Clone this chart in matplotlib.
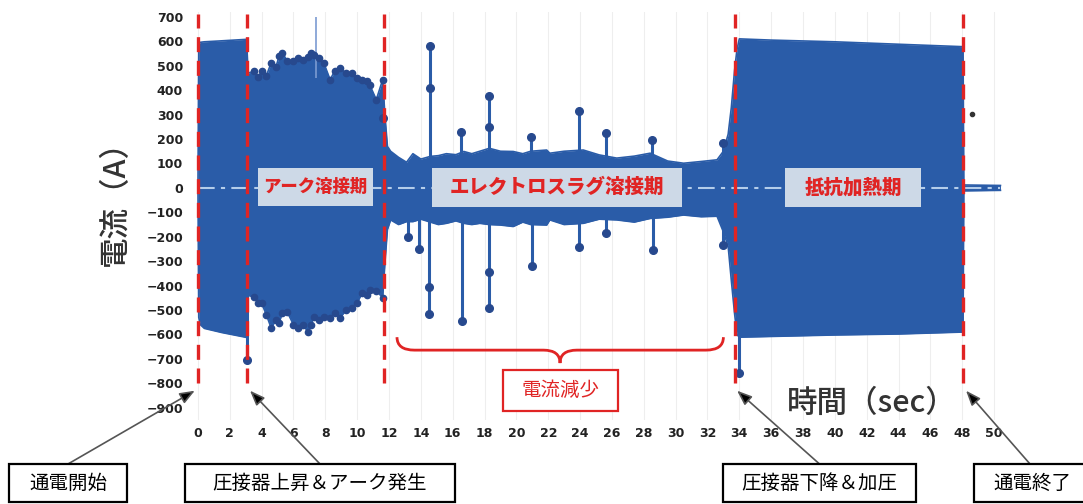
import numpy as np
import matplotlib
matplotlib.use('Agg')
import matplotlib.pyplot as plt
from matplotlib.patches import Rectangle, PathPatch
from matplotlib.path import Path

plt.rcParams['font.family'] = ['Noto Sans CJK JP', 'DejaVu Sans']

# current envelope (A) over time (sec)
t_env = [0.0, 0.05, 0.15, 0.4, 1.5, 3.05,
         3.15, 3.5, 3.8, 4.0, 4.3, 4.6, 4.9, 5.1, 5.3, 5.6, 6.0, 6.3, 6.6, 6.9, 7.1,
         7.3, 7.6, 7.9, 8.3, 8.6, 8.9, 9.3, 9.7, 10.0, 10.3, 10.6, 10.8, 11.2, 11.6,
         11.75, 11.9, 12.1,
         12.6, 13.1, 13.5, 14.0, 14.6, 15.1, 15.6, 16.2, 16.7, 17.2, 17.7, 18.3, 19.0,
         19.8, 20.4, 20.9, 21.9, 22.1, 23.0, 24.2, 25.2, 26.3, 27.4, 28.4, 29.5,
         30.5, 31.6, 32.6, 33.0, 33.3, 33.5, 33.7, 33.85,
         34.0, 36.0, 40.0, 44.0, 48.05,
         48.1, 50.4]
upper = [0, 590, 596, 598, 602, 608,
         470, 477, 455, 477, 460, 512, 495, 540, 553, 520, 518, 530, 525, 535, 553,
         545, 530, 512, 443, 480, 492, 470, 471, 450, 440, 436, 420, 361, 443,
         290, 170, 150,
         125, 105, 140, 118, 129, 132, 140, 136, 149, 140, 150, 162, 150,
         149, 140, 150, 155, 142, 150, 155, 135, 122, 130, 142, 110,
         101, 108, 115, 150, 220, 330, 480, 565,
         610, 605, 598, 588, 578,
         12, 10]
lower = [0, -530, -560, -575, -592, -612,
         -440, -446, -470, -472, -520, -574, -540, -553, -510, -507, -560, -574, -560, -589, -560,
         -527, -540, -530, -534, -510, -534, -500, -493, -470, -432, -440, -418, -420, -450,
         -300, -170, -131,
         -150, -138, -138, -128, -140, -150, -145, -135, -145, -150, -145, -150, -152,
         -158, -140, -150, -152, -131, -150, -145, -128, -131, -140, -125, -120,
         -111, -118, -116, -180, -240, -380, -513, -600,
         -611, -608, -602, -598, -590,
         -12, -10]

# isolated current spikes: time, peak, intermediate sample
spike_t = [11.65, 14.6, 16.5, 18.3, 20.9, 23.9, 25.6, 28.5, 33.0,
           3.1, 13.2, 13.9, 14.5, 16.6, 18.3, 21.0, 23.9, 25.6, 28.6, 33.0, 34.0]
spike_peak = [287, 579, 230, 377, 210, 315, 225, 197, 183,
              -705, -200, -250, -516, -545, -492, -320, -240, -185, -255, -233, -758]
spike_mid = [None, 410, None, 250, None, None, None, None, None,
             None, None, None, -405, None, -344, None, None, None, None, None, None]

stray_t, stray_i = 48.6, 303
arc_flash_t = 7.4

# phase boundaries (sec)
boundaries = [0.0, 3.1, 11.7, 33.7, 48.05]

yticks = list(range(700, -1000, -100))
xticks = list(range(0, 52, 2))

W, H = 1083, 504
fig = plt.figure(figsize=(W / 100, H / 100), dpi=100)
ax = fig.add_axes([190 / W, 1 - 420 / H, 820 / W, 408 / H])
ax.set_xlim(-0.5, 51)
ax.set_ylim(-950, 720)

blue = '#2a5ca8'
dot = '#27498e'
red = '#e02424'

for x in xticks:
    ax.axvline(x, color='#eeeeee', lw=0.8, zorder=0)

ax.fill_between(t_env, lower, upper, color=blue, lw=0, zorder=2)
ax.plot(t_env, upper, color=blue, lw=1.2, zorder=2)
ax.plot(t_env, lower, color=blue, lw=1.2, zorder=2)

# dots on the arc-welding peaks
arc = [i for i, t in enumerate(t_env) if 3.4 < t < 11.7]
ax.plot([t_env[i] for i in arc], [upper[i] for i in arc], 'o', color=dot, ms=4.5, zorder=3)
ax.plot([t_env[i] for i in arc], [lower[i] for i in arc], 'o', color=dot, ms=4.5, zorder=3)

ax.vlines(arc_flash_t, 450, 700, color='#7b9bd2', lw=1.2, zorder=2)
for t, p, m in zip(spike_t, spike_peak, spike_mid):
    ax.vlines(t, 0, p, color=blue, lw=2.2, zorder=2)
    ax.plot(t, p, 'o', color=dot, ms=5.5, zorder=3)
    if m is not None:
        ax.plot(t, m, 'o', color=dot, ms=5.5, zorder=3)
ax.plot(stray_t, stray_i, 'o', color='#333333', ms=3, zorder=3)

ax.plot([0, 50.4], [0, 0], color='#b4cdea', lw=1.5, ls=(0, (8, 3, 2, 3)), zorder=4)

for b in boundaries:
    ax.plot([b, b], [-800, 710], color=red, lw=2.4, ls=(0, (4.5, 2.6)), zorder=6, clip_on=False)

ax.set_yticks(yticks)
ax.set_xticks(xticks)
ax.tick_params(length=0, colors='#222222')
ax.tick_params(axis='y', pad=5)
ax.tick_params(axis='x', pad=5)
for lab in ax.get_yticklabels() + ax.get_xticklabels():
    lab.set_fontfamily('DejaVu Sans')
    lab.set_fontweight('bold')
    lab.set_fontsize(9)
for s in ax.spines.values():
    s.set_visible(False)

fig.text(115 / W, 1 - 195 / H, '電流（A）', rotation=90, ha='center', va='center',
         fontsize=22, color='#333333', fontweight='medium')
fig.text(872 / W, 1 - 403 / H, '時間（sec）', ha='center', va='center',
         fontsize=22, color='#333333', fontweight='medium')


def px_box(x0, y0, x1, y1, text, ec, tc, fc='white', size=14, weight='normal', lw=1.6):
    fig.add_artist(Rectangle((x0 / W, 1 - y1 / H), (x1 - x0) / W, (y1 - y0) / H,
                             transform=fig.transFigure, fc=fc, ec=ec, lw=lw, zorder=7))
    fig.text((x0 + x1) / 2 / W, 1 - (y0 + y1) / 2 / H, text, ha='center', va='center',
             fontsize=size, color=tc, fontweight=weight, zorder=8)


# phase labels
px_box(258, 168, 373, 206, 'アーク溶接期', 'none', red, fc='#cdd9e7', size=12.5, weight='heavy', lw=0)
px_box(432, 168, 682, 207, 'エレクトロスラグ溶接期', 'none', red, fc='#cdd9e7', size=14, weight='heavy', lw=0)
px_box(785, 168, 921, 207, '抵抗加熱期', 'none', red, fc='#cdd9e7', size=14, weight='heavy', lw=0)

# brace over the current-drop interval
verts = [(12.5, -611), (12.5, -664), (13.6, -664), (21.7, -664),
         (22.74, -664), (22.74, -717), (22.74, -664), (23.8, -664),
         (31.9, -664), (33.0, -664), (33.0, -611)]
codes = [Path.MOVETO, Path.CURVE3, Path.CURVE3, Path.LINETO,
         Path.CURVE3, Path.CURVE3, Path.CURVE3, Path.CURVE3,
         Path.LINETO, Path.CURVE3, Path.CURVE3]
ax.add_patch(PathPatch(Path(verts, codes), fc='none', ec=red, lw=2, clip_on=False, zorder=6))
px_box(503, 370, 618, 411, '電流減少', red, red, size=14, lw=1.6)

# event callouts
events = [(9, 127, '通電開始', -0.2),
          (185, 455, '圧接器上昇＆アーク発生', 3.27),
          (723, 916, '圧接器下降＆加圧', 33.86),
          (974, 1090, '通電終了', 48.24)]
for x0, x1, txt, tip in events:
    px_box(x0, 464, x1, 502, txt, 'black', 'black', size=14, lw=1.6)
    xc = (x0 + x1) / 2 if x1 < 1083 else 1030
    ax.annotate('', xy=(tip, -830), xycoords='data',
                xytext=(xc / W, 1 - 464 / H), textcoords='figure fraction',
                arrowprops=dict(arrowstyle='-|>,head_length=0.9,head_width=0.35',
                                ec='#555555', fc='black', lw=1.2, shrinkA=0, shrinkB=0),
                annotation_clip=False)

fig.savefig('out.png', dpi=100)
